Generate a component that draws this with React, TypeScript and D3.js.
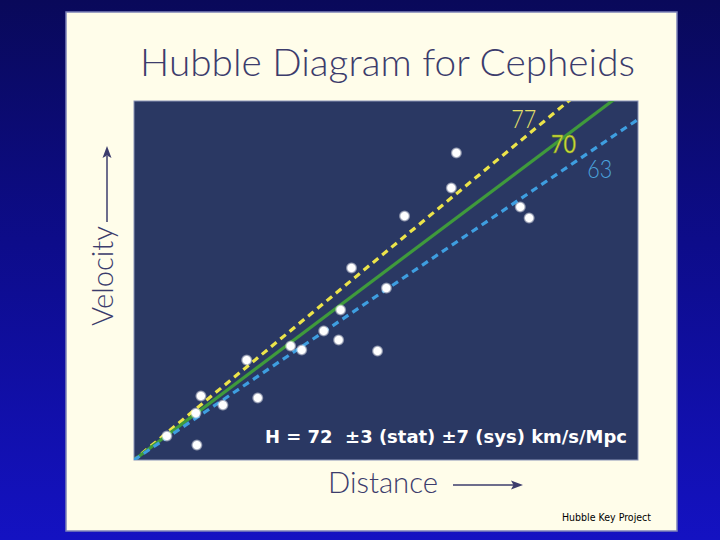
import React from "react";
import * as d3 from "d3";

// Data (distance in Mpc, velocity in km/s)
const distances = [15.99, 15.74, 13.42, 19.16, 19.6, 10.79, 12.52, 10.25, 9.41, 10.15, 12.08, 7.77, 8.32, 5.59, 6.14, 3.32, 4.41, 3.07, 1.63, 3.12];
const velocities = [1420, 1258, 1128, 1170, 1119, 888, 795, 694, 597, 555, 504, 527, 509, 462, 287, 296, 254, 217, 111, 69];
const hubbleValues = [77, 70, 63];
const labelDistances = [18.71, 20.69, 22.48];
const labelVelocities = [1535, 1420, 1304];
const title = "Hubble Diagram for Cepheids";
const resultText = "H = 72  \u00b13 (stat) \u00b17 (sys) km/s/Mpc";

const W = 720, H = 540;
const plot = { x0: 134, x1: 638, y0: 101, y1: 460 };
const lightFont = "Lato, 'Liberation Sans', sans-serif";

export default function App() {
  const x = d3.scaleLinear().domain([0, 25]).range([plot.x0, plot.x1]);
  const y = d3.scaleLinear().domain([0, 1660]).range([plot.y1, plot.y0]);
  const line = d3.line<[number, number]>().x((d) => x(d[0])).y((d) => y(d[1]));
  const lineColors = ["#ece44a", "#3f9a3c", "#3e9ee0"];
  const labelColors = ["#e6e06a", "#cde23a", "#4aa2dc"];
  const dash = ["7 5", null, "7 5"];

  return (
    <svg width={W} height={H} style={{ position: "absolute", left: 0, top: 0 }}>
      <defs>
        <linearGradient id="bg" x1="0" y1="0" x2="0" y2="1">
          <stop offset="0%" stopColor="#09095a" />
          <stop offset="45%" stopColor="#0d0c8a" />
          <stop offset="100%" stopColor="#1412c2" />
        </linearGradient>
        <clipPath id="clip">
          <rect x={plot.x0} y={plot.y0} width={plot.x1 - plot.x0} height={plot.y1 - plot.y0} />
        </clipPath>
        <radialGradient id="dot">
          <stop offset="60%" stopColor="#ffffff" />
          <stop offset="100%" stopColor="#ffffff" stopOpacity="0" />
        </radialGradient>
      </defs>
      <rect x={0} y={0} width={W} height={H} fill="url(#bg)" />
      <rect x={66} y={12} width={611} height={519} fill="#fffdea" stroke="#7d82b8" strokeWidth={1.5} />
      <text x={140} y={76} fontFamily={lightFont} fontWeight={300} fontSize={38} fill="#3c3c6c" textLength={495} lengthAdjust="spacingAndGlyphs">{title}</text>

      <rect x={plot.x0} y={plot.y0} width={plot.x1 - plot.x0} height={plot.y1 - plot.y0} fill="#2a3863" stroke="#8a94b8" strokeWidth={1} />
      <g clipPath="url(#clip)">
        {hubbleValues.map((h, i) => (
          <path key={h} d={line([[-1, -h], [30, h * 30]]) || ""} fill="none" stroke={lineColors[i]} strokeWidth={3.2} strokeDasharray={dash[i] || undefined} />
        ))}
        {distances.map((dv, i) => (
          <circle key={i} cx={x(dv)} cy={y(velocities[i])} r={6} fill="url(#dot)" />
        ))}
      </g>
      {hubbleValues.map((h, i) => (
        <text key={"l" + h} x={x(labelDistances[i])} y={y(labelVelocities[i])} fontFamily={lightFont} fontWeight={i === 1 ? 400 : 300} fontSize={25} fill={labelColors[i]} stroke={i === 1 ? "#7a8a20" : "none"} strokeWidth={0.6} textLength={25} lengthAdjust="spacingAndGlyphs">{String(h)}</text>
      ))}
      <text x={265} y={443} fontFamily="'DejaVu Sans', sans-serif" fontWeight="bold" fontSize={17} fill="#ffffff" textLength={362} lengthAdjust="spacingAndGlyphs" style={{ whiteSpace: "pre" }}>{resultText}</text>

      {/* Velocity axis label */}
      <text transform="translate(113,326) rotate(-90)" fontFamily={lightFont} fontWeight={300} fontSize={29} fill="#3c3c6c" textLength={100} lengthAdjust="spacingAndGlyphs">Velocity</text>
      <line x1={107} y1={222} x2={107} y2={156} stroke="#3c3c6c" strokeWidth={1.5} />
      <path d="M107,146 L111.5,158 L107,155.5 L102.5,158 Z" fill="#3c3c6c" />

      {/* Distance axis label */}
      <text x={328} y={493} fontFamily={lightFont} fontWeight={300} fontSize={30} fill="#3c3c6c" textLength={110} lengthAdjust="spacingAndGlyphs">Distance</text>
      <line x1={453} y1={485} x2={514} y2={485} stroke="#3c3c6c" strokeWidth={1.5} />
      <path d="M523,485 L511,480.5 L513.5,485 L511,489.5 Z" fill="#3c3c6c" />

      <text x={562} y={521} fontFamily="'DejaVu Sans', sans-serif" fontSize={10.5} fill="#000000" textLength={89} lengthAdjust="spacingAndGlyphs">Hubble Key Project</text>
    </svg>
  );
}
